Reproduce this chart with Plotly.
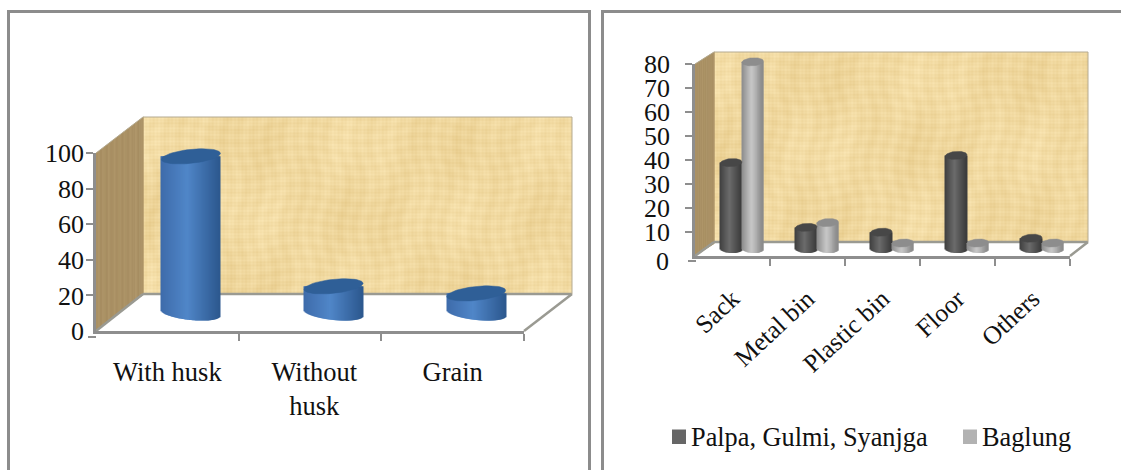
import base64, struct, zlib
import numpy as np
import plotly.graph_objects as go

# ---- data ----
left_categories = ["With husk", "Without<br>husk", "Grain"]
left_values = [88, 15, 11]
left_ticks = [20, 40, 60, 80, 100]

right_categories = ["Sack", "Metal bin", "Plastic bin", "Floor", "Others"]
palpa_values = [36, 9, 7, 39, 4.5]
baglung_values = [78, 11, 2.5, 2.5, 2.5]
right_ticks = [10, 20, 30, 40, 50, 60, 70, 80]
series_names = ["Palpa, Gulmi, Syanjga", "Baglung"]

W, H = 1121, 470
FONT = "Liberation Serif"
GREY = "#8e8e8e"
INK = "#111111"


def px(v):
    return v / W


def py(v):
    return 1 - v / H


def dom_x(a, b):
    return [px(a), px(b)]


def dom_y(top, bottom):
    return [py(bottom), py(top)]


def mix(a, b, t):
    return tuple(a[i] + (b[i] - a[i]) * t for i in range(3))


def rgb(c):
    return "rgb(%d,%d,%d)" % tuple(int(round(v)) for v in c)


def make_texture(w, h):
    xs, ys = np.meshgrid(np.arange(w), np.arange(h))
    v = (
        np.sin(xs * 1.7) * 2.0
        + np.sin(ys * 1.9) * 2.0
        + np.sin(xs * 0.43 + np.sin(ys * 0.07) * 2) * 2.5
        + np.sin(ys * 0.51 + np.sin(xs * 0.05) * 2) * 2.5
        + np.sin(xs * 0.13 + ys * 0.04) * 2.0
        + np.sin(xs * 0.031 + 1.3) * np.sin(ys * 0.043 + 0.4) * 4.0
    )
    img = np.stack([241 + v * 0.7, 217 + v, 160 + v * 1.5], axis=-1)
    img = np.clip(img, 0, 255).astype(np.uint8)
    raw = b"".join(b"\x00" + img[r].tobytes() for r in range(h))

    def chunk(tag, data):
        c = struct.pack(">I", len(data)) + tag + data
        return c + struct.pack(">I", zlib.crc32(tag + data) & 0xffffffff)

    png = b"\x89PNG\r\n\x1a\n" + chunk(b"IHDR", struct.pack(">IIBBBBB", w, h, 8, 2, 0, 0, 0))
    png += chunk(b"IDAT", zlib.compress(raw, 9)) + chunk(b"IEND", b"")
    return "data:image/png;base64," + base64.b64encode(png).decode()


def cylinder(fig, xc, value, half_w, half_h, tilt, unit_x, unit_y, edge_l, mid, edge_r, cap, axes, strips):
    """Strips of one cylinder in data units; half sizes are in pixels."""
    ts = (np.arange(strips) + 0.5) / strips * 2 - 1
    xs = xc + ts * half_w / unit_x
    bottoms = (np.sqrt(1 - ts ** 2) * half_h + ts * tilt) / unit_y
    cols = [rgb(mix(edge_l, mid, (t + 1) / 0.9)) if t < -0.1 else rgb(mix(mid, edge_r, max(0, (t + 0.1) / 1.1))) for t in ts]
    fig.add_trace(go.Bar(
        x=xs, y=[value + b for b in bottoms], base=-bottoms,
        width=2 * half_w / unit_x / strips * 1.3, cliponaxis=False,
        marker=dict(color=cols, line=dict(width=0)), xaxis=axes[0], yaxis=axes[1],
        showlegend=False, hoverinfo="skip"))
    a = np.linspace(0, 2 * np.pi, 60)
    fig.add_trace(go.Scatter(
        x=xc + np.cos(a) * half_w / unit_x,
        y=value + (np.sin(a) * half_h + np.cos(a) * tilt) / unit_y,
        mode="lines", fill="toself", fillcolor=cap, line=dict(color=cap, width=0.5), cliponaxis=False,
        xaxis=axes[0], yaxis=axes[1], showlegend=False, hoverinfo="skip"))


def wall_shapes(x0, x1, back_x, top_front, bottom_front, top_back, bottom_back, right_back, right_front):
    out = []
    n = 24
    w = back_x - x0
    slope = (top_front - top_back) / w
    for i in range(n):
        a, b = x0 + w * i / n, x0 + w * (i + 1) / n
        ta, tb = top_front - slope * (a - x0), top_front - slope * (b - x0)
        ba, bb = bottom_front - slope * (a - x0), bottom_front - slope * (b - x0)
        tone = 0.5 + 0.5 * np.sin(i * 2.3)
        col = rgb(mix((166, 141, 97), (174, 149, 104), tone))
        out.append(dict(type="path", xref="paper", yref="paper", layer="below", line=dict(width=0), fillcolor=col,
                        path="M%f,%f L%f,%f L%f,%f L%f,%f Z" % (px(a), py(ta), px(b + 0.7), py(tb - slope * 0.7), px(b + 0.7), py(bb - slope * 0.7), px(a), py(ba))))
    for p0, p1, wd in [((x0, bottom_front), (back_x, bottom_back), 2.5),
                       ((back_x, bottom_back), (right_back, bottom_back), 2.5),
                       ((right_back, bottom_back), (right_front, bottom_front), 2.5),
                       ((x0, top_front), (back_x, top_back), 1),
                       ((back_x, top_back), (right_back, top_back), 1),
                       ((right_back, top_back), (right_back, bottom_back), 1)]:
        out.append(dict(type="line", xref="paper", yref="paper", layer="below",
                        x0=px(p0[0]), y0=py(p0[1]), x1=px(p1[0]), y1=py(p1[1]),
                        line=dict(color="#9a9a92" if wd > 2 else "#b5ab92", width=wd)))
    return out


fig = go.Figure()

# ---- left chart ----
LX0, LX1, LY0, LY1 = 96, 524, 153, 331
LDX, LDY = 23.5, -18
lux = (LX1 - LX0) / 3
luy = (LY1 - LY0) / 100
L_PAD = 12 / luy  # hidden axis runs below zero so the round cylinder bases stay in range
fig.add_trace(go.Scatter(x=[None], y=[None], xaxis="x", yaxis="y", showlegend=False, hoverinfo="skip"))
for i, v in enumerate(left_values):
    cylinder(fig, i + 0.5, v, 29.5, 7, 3, lux, luy, (62, 108, 170), (80, 134, 200), (44, 88, 142), "#2f5f97",
             ("x2", "y2"), 59)

# ---- right chart ----
RX0, RX1, RY0, RY1 = 695, 1070, 64, 256
RDX, RDY = 9.5, -7
rux = (RX1 - RX0) / 5
ruy = (RY1 - RY0) / 80
R_PAD = 6 / ruy
BAR = 21.5 / rux
fig.add_trace(go.Scatter(x=[None], y=[None], xaxis="x3", yaxis="y3", showlegend=False, hoverinfo="skip"))
for i, (a, b) in enumerate(zip(palpa_values, baglung_values)):
    cylinder(fig, i + 0.5 - BAR / 2, a, 10.8, 4, 0.6, rux, ruy, (62, 62, 62), (108, 108, 108), (58, 58, 58), "#474747",
             ("x4", "y4"), 22)
    cylinder(fig, i + 0.5 + BAR / 2, b, 10.8, 4, 0.6, rux, ruy, (138, 138, 138), (200, 200, 200), (136, 136, 136), "#8d8d8d",
             ("x4", "y4"), 22)

hidden = dict(visible=False, fixedrange=True)
tick_font = dict(family=FONT, size=26, color=INK)
common_x = dict(showline=True, linecolor=GREY, linewidth=2.5, showgrid=False, zeroline=False, ticks="",
                fixedrange=True)
common_y = dict(showline=True, linecolor=GREY, linewidth=2.5, showgrid=False, zeroline=False, ticks="outside",
                tickcolor=GREY, tickwidth=2, ticklen=7, tickfont=tick_font, fixedrange=True)

shapes = []
# panel frames
shapes.append(dict(type="rect", xref="paper", yref="paper", x0=px(8.5), x1=px(589.5), y0=py(480), y1=py(11.5),
                   line=dict(color="#8c8c8c", width=3), layer="below"))
shapes.append(dict(type="rect", xref="paper", yref="paper", x0=px(602.5), x1=px(1130), y0=py(480), y1=py(11.5),
                   line=dict(color="#8c8c8c", width=3), layer="below"))
shapes += wall_shapes(LX0, LX1, 143, LY0, LY1, 117, 294, 572, LX1)
shapes += wall_shapes(RX0, RX1, 714, RY0, RY1, 52, 242, 1088, RX1)
# displaced zero ticks
shapes.append(dict(type="line", xref="paper", yref="paper", x0=px(88), x1=px(96), y0=py(337), y1=py(337),
                   line=dict(color=GREY, width=2)))
shapes.append(dict(type="line", xref="paper", yref="paper", x0=px(688), x1=px(696), y0=py(261), y1=py(261),
                   line=dict(color=GREY, width=2)))
# legend keys
for x0, col in [(672, "#666666"), (963, "#b2b2b2")]:
    shapes.append(dict(type="rect", xref="paper", yref="paper", x0=px(x0), x1=px(x0 + 14), y0=py(444), y1=py(429.5),
                       fillcolor=col, line=dict(width=0)))

images = [dict(source=make_texture(429, 177), xref="paper", yref="paper", x=px(143), y=py(117), xanchor="left",
               yanchor="top", sizex=px(572) - px(143), sizey=py(117) - py(294), sizing="stretch", layer="below"),
          dict(source=make_texture(374, 190), xref="paper", yref="paper", x=px(714), y=py(52), xanchor="left",
               yanchor="top", sizex=px(1088) - px(714), sizey=py(52) - py(242), sizing="stretch", layer="below")]

legend_font = dict(family=FONT, size=26.3, color=INK)
annotations = [
    dict(text="0", xref="paper", yref="paper", x=px(86), y=py(331), xanchor="right", yanchor="middle",
         showarrow=False, font=tick_font),
    dict(text="0", xref="paper", yref="paper", x=px(671), y=py(261), xanchor="right", yanchor="middle",
         showarrow=False, font=tick_font),
    dict(text=series_names[0], xref="paper", yref="paper", x=px(689), y=py(437), xanchor="left", yanchor="middle",
         showarrow=False, font=legend_font),
    dict(text=series_names[1], xref="paper", yref="paper", x=px(980), y=py(437), xanchor="left", yanchor="middle",
         showarrow=False, font=legend_font),
]

fig.update_layout(
    width=W, height=H, margin=dict(l=0, r=0, t=0, b=0, autoexpand=False), paper_bgcolor="white",
    plot_bgcolor="rgba(0,0,0,0)", barmode="overlay", showlegend=False, shapes=shapes, images=images,
    annotations=annotations,
    xaxis=dict(domain=dom_x(LX0, LX1), range=[0, 3], anchor="y", tickvals=[0.5, 1.53, 2.5], ticktext=left_categories,
               ticklabelstandoff=15, tickfont=dict(family=FONT, size=26.5, color=INK),
               minor=dict(tickvals=[1, 2, 3], ticks="outside", ticklen=7, tickcolor=GREY, tickwidth=2),
               **common_x),
    yaxis=dict(domain=dom_y(LY0, LY1), range=[0, 100], anchor="x", tickvals=left_ticks, ticklabelstandoff=-3, **common_y),
    xaxis2=dict(domain=dom_x(LX0 + LDX, LX1 + LDX), range=[0, 3], anchor="y2", **hidden),
    yaxis2=dict(domain=dom_y(LY0 + LDY, LY1 + LDY + 12), range=[-L_PAD, 100], anchor="x2", **hidden),
    xaxis3=dict(domain=dom_x(RX0, RX1), range=[0, 5], anchor="y3", tickvals=[0.5, 1.5, 2.5, 3.5, 4.5],
                ticktext=right_categories, tickangle=-43, ticklabelstandoff=15,
                tickfont=dict(family=FONT, size=25.5, color=INK),
                minor=dict(tickvals=[1, 2, 3, 4, 5], ticks="outside", ticklen=7, tickcolor=GREY, tickwidth=2), **common_x),
    yaxis3=dict(domain=dom_y(RY0, RY1), range=[0, 80], anchor="x3", tickvals=right_ticks, ticklabelstandoff=10, **common_y),
    xaxis4=dict(domain=dom_x(RX0 + RDX, RX1 + RDX), range=[0, 5], anchor="y4", **hidden),
    yaxis4=dict(domain=dom_y(RY0 + RDY, RY1 + RDY + 6), range=[-R_PAD, 80], anchor="x4", **hidden),
)

fig.write_html("out.html", post_script="document.body.style.margin='0';", config=dict(displayModeBar=False))
